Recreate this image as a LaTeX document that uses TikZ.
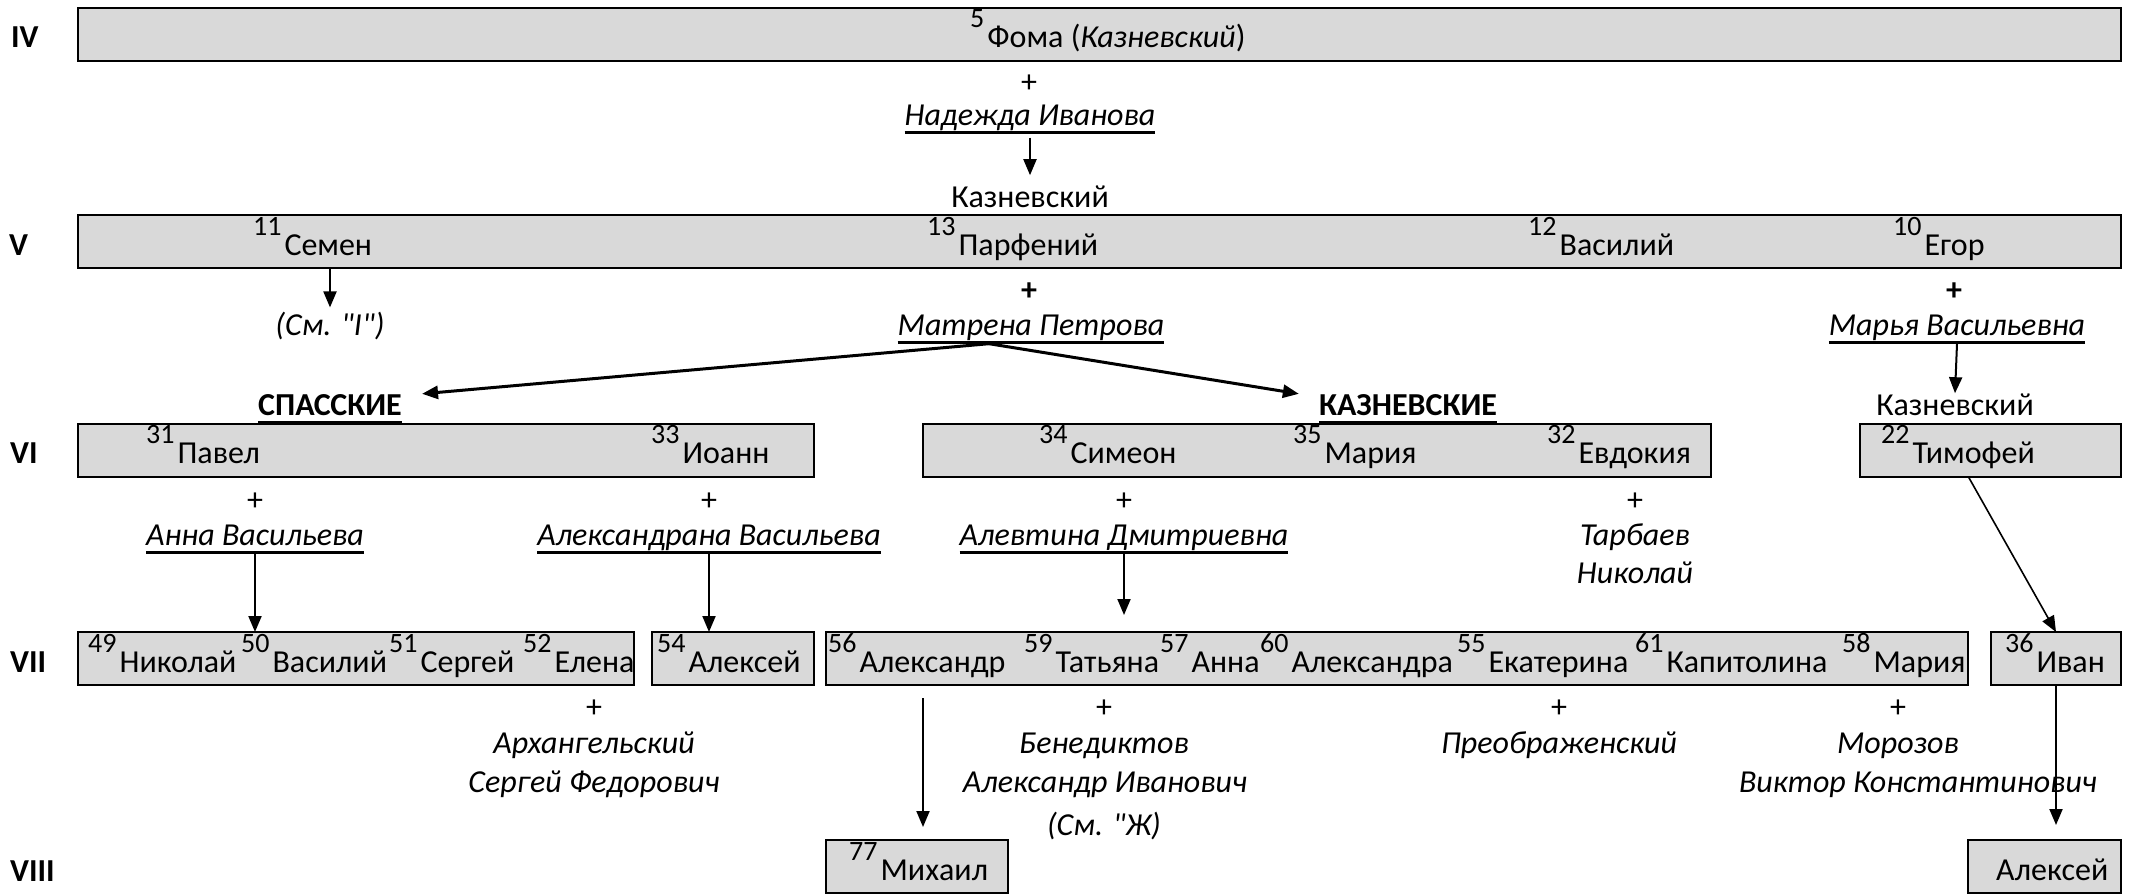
\documentclass[tikz,border=0pt]{standalone}
\usepackage{fontspec}
\setmainfont{Carlito}[Ligatures=TeXOff]
\usetikzlibrary{arrows.meta}

\definecolor{boxgray}{HTML}{D9D9D9}

\newsavebox\ulbox
\newcommand\ulname[1]{\sbox\ulbox{#1}\rlap{\rule[-8.5pt]{\wd\ulbox}{2.6pt}}\usebox\ulbox}
\newcommand\nr[1]{\raisebox{20pt}{\fontsize{28}{28}\selectfont #1}\hspace{3pt}}

\tikzset{
  genbox/.style={draw=black, fill=boxgray, line width=2.2pt, inner sep=0pt, outer sep=0pt, anchor=north west},
  gen/.style={font=\bfseries, anchor=base west, inner sep=0pt},
  person/.style={anchor=base west, inner sep=0pt},
  note/.style={anchor=base, inner sep=0pt},
  spouse/.style={anchor=base, inner sep=0pt, font=\itshape},
  descent/.style={line width=2pt, -{Triangle[length=16pt,width=13pt]}},
}

\begin{document}
\fontsize{32}{38}\selectfont
\begin{tikzpicture}[x=1pt, y=-1pt]
  \useasboundingbox (0,0) rectangle (2136,894);
  % one box per family group, y grows downwards
  \node[genbox, minimum width=2043pt, minimum height=53pt] (g4)  at (78,8) {};
  \node[genbox, minimum width=2043pt, minimum height=53pt] (g5)  at (78,215) {};
  \node[genbox, minimum width=736pt,  minimum height=53pt] (g6a) at (78,424) {};
  \node[genbox, minimum width=788pt,  minimum height=53pt] (g6b) at (923,424) {};
  \node[genbox, minimum width=261pt,  minimum height=53pt] (g6c) at (1860,424) {};
  \node[genbox, minimum width=556pt,  minimum height=53pt] (g7a) at (78,632) {};
  \node[genbox, minimum width=162pt,  minimum height=53pt] (g7b) at (652,632) {};
  \node[genbox, minimum width=1142pt, minimum height=53pt] (g7c) at (826,632) {};
  \node[genbox, minimum width=130pt,  minimum height=53pt] (g7d) at (1991,632) {};
  \node[genbox, minimum width=182pt,  minimum height=53pt] (g8a) at (826,840) {};
  \node[genbox, minimum width=153pt,  minimum height=53pt] (g8b) at (1968,840) {};

  % generation numbers
  \node[gen] (r4) at (11,47) {IV};
  \node[gen] (r5) at (9,255) {V};
  \node[gen] (r6) at (10,463) {VI};
  \node[gen] (r7) at (10,672) {VII};
  \node[gen] (r8) at (10,881) {VIII};

  % IV
  \node[person] (p5) at (970,47) {\nr{5}Фома (\textit{Казневский})};
  \node[note] (plus4) at (1029,92) {+};
  \node[spouse] (nad) at (1030,125) {\ulname{Надежда Иванова}};
  \node[note] (kaz5) at (1030,207) {Казневский};

  % V
  \node[person] (p11) at (253,255) {\nr{11}Семен};
  \node[person] (p13) at (927,255) {\nr{13}Парфений};
  \node[person] (p12) at (1528,255) {\nr{12}Василий};
  \node[person] (p10) at (1893,255) {\nr{10}Егор};
  \node[spouse] (seeI) at (330,335) {(См. "I")};
  \node[note, font=\bfseries] (plus13) at (1029,300) {+};
  \node[spouse] (matr) at (1031,335) {\ulname{Матрена Петрова}};
  \node[note, font=\bfseries] (plus10) at (1954,300) {+};
  \node[spouse] (marya) at (1957,335) {\ulname{Марья Васильевна}};
  \node[note, font=\bfseries] (spasl) at (330,415) {\ulname{СПАССКИЕ}};
  \node[note, font=\bfseries] (kaznl) at (1408,415) {\ulname{КАЗНЕВСКИЕ}};
  \node[note] (kaz6) at (1955,415) {Казневский};

  % VI
  \node[person] (p31) at (146,463) {\nr{31}Павел};
  \node[person] (p33) at (651,463) {\nr{33}Иоанн};
  \node[person] (p34) at (1039,463) {\nr{34}Симеон};
  \node[person] (p35) at (1293,463) {\nr{35}Мария};
  \node[person] (p32) at (1547,463) {\nr{32}Евдокия};
  \node[person] (p22) at (1881,463) {\nr{22}Тимофей};
  \node[note] (plus31) at (255,510) {+};
  \node[spouse] (anna) at (255,545) {\ulname{Анна Васильева}};
  \node[note] (plus33) at (709,510) {+};
  \node[spouse] (alxa) at (709,545) {\ulname{Александрана Васильева}};
  \node[note] (plus34) at (1124,510) {+};
  \node[spouse] (alev) at (1124,545) {\ulname{Алевтина Дмитриевна}};
  \node[note] (plus32) at (1635,510) {+};
  \node[spouse] (tarb1) at (1635,545) {Тарбаев};
  \node[spouse] (tarb2) at (1635,583) {Николай};

  % VII
  \node[person] (p49) at (88,672) {\nr{49}Николай};
  \node[person] (p50) at (241,672) {\nr{50}Василий};
  \node[person] (p51) at (389,672) {\nr{51}Сергей};
  \node[person] (p52) at (523,672) {\nr{52}Елена};
  \node[person] (p54) at (657,672) {\nr{54}Алексей};
  \node[person] (p56) at (828,672) {\nr{56}Александр};
  \node[person] (p59) at (1024,672) {\nr{59}Татьяна};
  \node[person] (p57) at (1160,672) {\nr{57}Анна};
  \node[person] (p60) at (1260,672) {\nr{60}Александра};
  \node[person] (p55) at (1457,672) {\nr{55}Екатерина};
  \node[person] (p61) at (1635,672) {\nr{61}Капитолина};
  \node[person] (p58) at (1842,672) {\nr{58}Мария};
  \node[person] (p36) at (2005,672) {\nr{36}Иван};
  \node[note] (plus52) at (594,717) {+};
  \node[spouse] (arkh1) at (594,753) {Архангельский};
  \node[spouse] (arkh2) at (594,792) {Сергей Федорович};
  \node[note] (plus59) at (1104,717) {+};
  \node[spouse] (bene1) at (1104,753) {Бенедиктов};
  \node[spouse] (bene2) at (1105,792) {Александр Иванович};
  \node[spouse] (bene3) at (1104,835) {(См. "Ж)};
  \node[note] (plus55) at (1559,717) {+};
  \node[spouse] (preo) at (1559,753) {Преображенский};
  \node[note] (plus58) at (1898,717) {+};
  \node[spouse] (moro1) at (1898,753) {Морозов};
  \node[spouse] (moro2) at (1918,792) {Виктор Константинович};

  % VIII
  \node[person] (p77) at (849,880) {\nr{77}Михаил};
  \node[person] (alek8) at (1996,880) {Алексей};
  \coordinate (alexdown) at (923,698);

  % descent lines
  \draw[descent, shorten <=4pt, shorten >=10pt] (nad.south) -- (kaz5.north);
  \draw[descent, shorten >=4pt] (g5.south -| seeI.north) -- (seeI.north);
  \draw[descent, line width=3pt] ([xshift=-42pt]matr.south) -- ([xshift=20pt]spasl.north east);
  \draw[descent, line width=3pt] ([xshift=-42pt]matr.south) -- ([xshift=-20pt]kaznl.north west);
  \draw[descent] (marya.south) -- (kaz6.north);
  \draw[descent] (anna.south) -- (anna.south |- g7a.north);
  \draw[descent] (alxa.south) -- (alxa.south |- g7b.north);
  \draw[descent, shorten >=17pt] (alev.south) -- (alev.south |- g7c.north);
  \draw[descent, line width=1.6pt] ([xshift=-22pt]g6c.south) -- (g7d.north);
  \draw[descent, shorten >=13pt] (alexdown) -- (alexdown |- g8a.north);
  \draw[descent, shorten >=15pt] (g7d.south) -- (g7d.south |- g8b.north);
\end{tikzpicture}
\end{document}
